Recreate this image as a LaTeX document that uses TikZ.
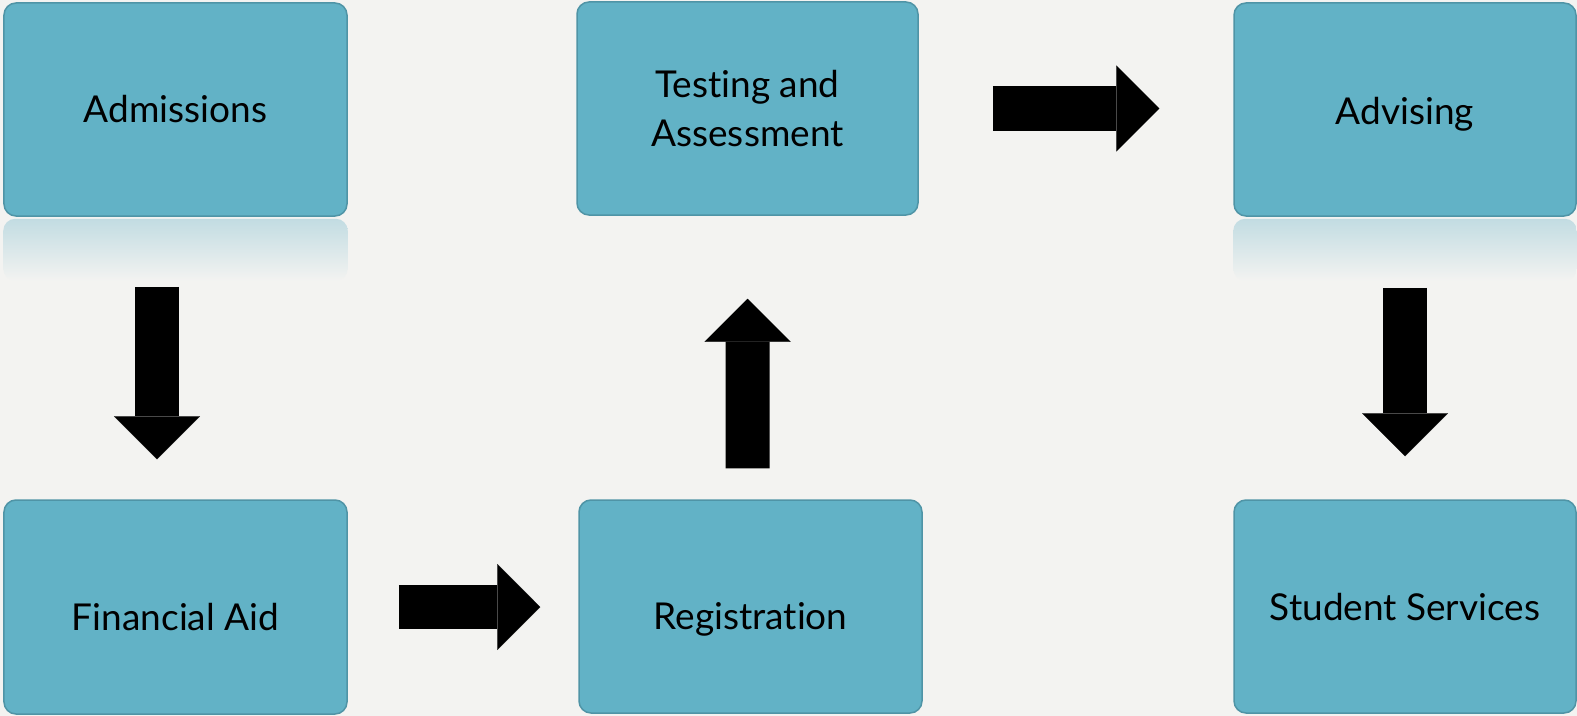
\documentclass[tikz,border=0pt]{standalone}
\usepackage{fontspec}
\setmainfont{Lato}[Ligatures={NoCommon,NoRequired,NoContextual}]
\usetikzlibrary{arrows.meta,calc}
\definecolor{boxfill}{HTML}{62B2C6}
\definecolor{boxline}{HTML}{4F94A6}
\definecolor{bg}{HTML}{F3F3F1}
\definecolor{refl}{HTML}{C2DCE2}
\begin{document}
\begin{tikzpicture}[x=1bp,y=-1bp,
  stepbox/.style={draw=boxline, line width=1.5bp, fill=boxfill, rounded corners=12bp,
    inner sep=0pt, font=\fontsize{37bp}{49bp}\selectfont, align=center},
  oneline/.style={text height=#1, text depth=0pt},
  blockarrow/.style={draw=black, line width=44bp,
    -{Triangle[length=43bp,width=86bp,line width=0.1bp]}},
  reflect/.style={top color=refl, bottom color=bg, rounded corners=12bp}
]
\fill[bg] (0,0) rectangle (1577,716);
\useasboundingbox (0,0) rectangle (1577,716);

\node[stepbox, oneline=26bp, minimum width=343bp, minimum height=213bp] (adm) at (175.5,109.5) {Admissions};
\node[stepbox, oneline=46bp, minimum width=343bp, minimum height=214bp] (fin) at (175.5,607) {Financial Aid};
\node[stepbox, minimum width=341bp, minimum height=213bp] (tst) at (747.5,108.5) {Testing and\\Assessment};
\node[stepbox, oneline=46bp, minimum width=343bp, minimum height=213bp] (reg) at (750.5,606.5) {Registration};
\node[stepbox, oneline=30bp, minimum width=342bp, minimum height=213bp] (adv) at (1405,109.5) {Advising};
\node[stepbox, oneline=28bp, minimum width=342bp, minimum height=213bp] (stu) at (1405,606.5) {Student Services};

\shade[reflect] ($(adm.south west)+(0,2)$) rectangle ($(adm.south east)+(0,64)$);
\shade[reflect] ($(adv.south west)+(0,2)$) rectangle ($(adv.south east)+(0,64)$);

\draw[blockarrow, shorten <=70bp, shorten >=40bp] ([xshift=-18.5bp]adm.south) -- ([xshift=-18.5bp]fin.north);
\draw[blockarrow, shorten <=51bp, shorten >=38bp] (fin.east) -- (fin.east -| reg.west);
\draw[blockarrow, shorten <=31bp, shorten >=83bp] ([xshift=-3bp]reg.north) -- (tst.south);
\draw[blockarrow, shorten <=74bp, shorten >=74bp] (tst.east) -- (tst.east -| adv.west);
\draw[blockarrow, shorten <=71bp, shorten >=43bp] (adv.south) -- (stu.north);
\end{tikzpicture}
\end{document}
